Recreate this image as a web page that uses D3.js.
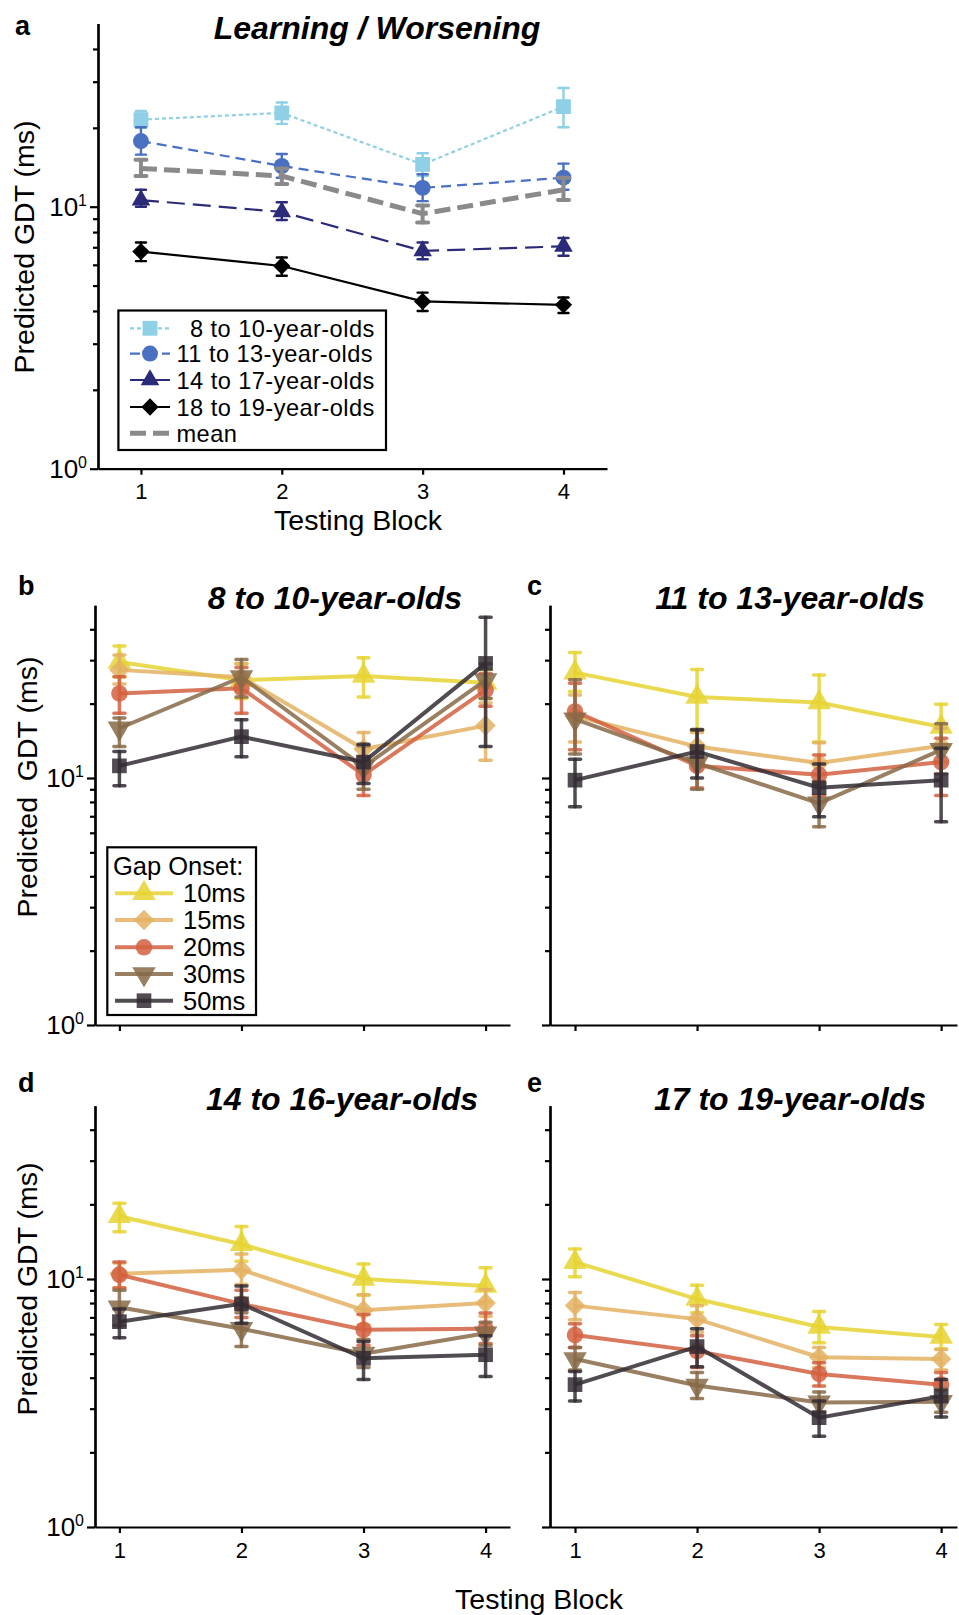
<!DOCTYPE html>
<html>
<head>
<meta charset="utf-8">
<script src="https://cdn.jsdelivr.net/npm/d3@7"></script>
<style>
  body { margin: 0; background: #fff; }
  text { font-family: "Liberation Sans", Arial, Helvetica, sans-serif; }
</style>
</head>
<body>
<svg id="chart" width="959" height="1615"></svg>
<script>
const blocks = [1, 2, 3, 4];
const minorTicks = [2, 3, 4, 5, 6, 7, 8, 9, 20, 30, 40];
const majorTicks = [1, 10];

// panel a: predicted GDT per age group (ms), error bars as [low, high]
const ageLabels = ['8 to 10-year-olds', '11 to 13-year-olds', '14 to 17-year-olds', '18 to 19-year-olds', 'mean'];
const age8to10 = [21.5, 22.8, 14.5, 24.1];
const age8to10Err = [[20.0, 23.2], [20.7, 25.0], [13.1, 16.0], [20.1, 28.4]];
const age11to13 = [17.8, 14.3, 11.8, 12.9];
const age11to13Err = [[15.8, 20.1], [12.9, 15.9], [10.5, 13.3], [11.6, 14.6]];
const age14to17 = [10.6, 9.55, 6.78, 7.06];
const age14to17Err = [[10.0, 11.6], [8.9, 10.4], [6.3, 7.3], [6.5, 7.6]];
const age18to19 = [6.74, 5.94, 4.35, 4.22];
const age18to19Err = [[6.2, 7.3], [5.45, 6.4], [4.0, 4.7], [3.93, 4.5]];
const ageMean = [14.0, 13.1, 9.4, 11.6];
const ageMeanErr = [[13.1, 15.1], [12.2, 14.0], [8.7, 10.1], [10.6, 12.9]];

// panels b-e: predicted GDT per gap onset (ms)
const onsetLabels = ['10ms', '15ms', '20ms', '30ms', '50ms'];

// b: 8 to 10-year-olds
const b10 = [29.5, 24.9, 25.9, 24.3];
const b10Err = [[25.7, 34.2], [21.0, 29.0], [21.3, 30.7], [21.0, 27.5]];
const b15 = [27.4, 25.6, 13.1, 16.3];
const b15Err = [[24.0, 31.5], [22.5, 29.0], [11.1, 15.3], [11.8, 20.1]];
const b20 = [22.0, 23.1, 10.3, 22.7];
const b20Err = [[18.3, 25.7], [18.3, 28.0], [8.5, 12.2], [19.5, 26.5]];
const b30 = [15.9, 25.6, 11.1, 24.9];
const b30Err = [[13.4, 17.5], [21.3, 30.2], [9.0, 13.5], [21.0, 29.0]];
const b50 = [11.2, 14.7, 11.6, 29.1];
const b50Err = [[9.3, 12.8], [12.2, 17.2], [9.5, 13.7], [13.4, 44.7]];

// c: 11 to 13-year-olds
const c10 = [26.7, 21.3, 20.2, 16.1];
const c10Err = [[22.4, 32.2], [15.6, 27.5], [14.0, 26.1], [13.4, 19.9]];
const c15 = [17.8, 13.4, 11.5, 13.5];
const c15Err = [[14.0, 21.7], [11.8, 15.3], [9.6, 13.9], [11.6, 15.9]];
const c20 = [18.6, 11.2, 10.3, 11.6];
const c20Err = [[13.0, 24.2], [9.1, 12.6], [8.5, 12.4], [8.5, 14.5]];
const c30 = [17.3, 11.5, 7.9, 13.0];
const c30Err = [[12.5, 25.0], [9.0, 15.6], [6.35, 9.5], [10.4, 16.6]];
const c50 = [9.8, 12.8, 9.14, 9.8];
const c50Err = [[7.65, 11.9], [10.0, 15.7], [6.97, 11.4], [6.65, 13.2]];

// d: 14 to 16-year-olds
const d10 = [17.9, 13.8, 10.0, 9.37];
const d10Err = [[15.5, 20.2], [11.8, 16.3], [8.6, 11.5], [8.1, 11.1]];
const d15 = [10.5, 10.9, 7.48, 8.0];
const d15Err = [[9.2, 11.6], [9.5, 12.6], [6.52, 8.63], [7.08, 9.07]];
const d20 = [10.4, 7.94, 6.24, 6.3];
const d20Err = [[9.2, 11.7], [7.0, 9.0], [5.4, 7.2], [5.5, 7.3]];
const d30 = [7.69, 6.3, 5.0, 6.04];
const d30Err = [[6.5, 9.0], [5.34, 7.31], [4.4, 5.7], [5.4, 6.7]];
const d50 = [6.73, 7.94, 4.79, 4.95];
const d50Err = [[5.8, 7.57], [6.63, 9.37], [3.93, 5.6], [4.04, 5.9]];

// e: 17 to 19-year-olds
const e10 = [11.7, 8.3, 6.41, 5.84];
const e10Err = [[10.2, 13.2], [7.31, 9.43], [5.53, 7.39], [5.22, 6.56]];
const e15 = [7.81, 6.89, 4.84, 4.76];
const e15Err = [[6.85, 8.83], [6.1, 7.8], [4.4, 5.3], [4.3, 5.2]];
const e20 = [5.94, 5.12, 4.14, 3.75];
const e20Err = [[5.3, 6.6], [4.4, 5.9], [3.7, 4.6], [3.35, 4.2]];
const e30 = [4.76, 3.72, 3.18, 3.2];
const e30Err = [[4.3, 5.3], [3.3, 4.2], [2.9, 3.5], [2.9, 3.6]];
const e50 = [3.75, 5.34, 2.76, 3.37];
const e50Err = [[3.22, 4.24], [4.43, 6.3], [2.32, 3.22], [2.78, 3.93]];

const svg = d3.select('#chart');

// filled diamond (square turned 45deg)
const symbolRhomb = {
  draw(ctx, size) {
    const r = Math.sqrt(size / 2);
    ctx.moveTo(0, -r);
    ctx.lineTo(r, 0);
    ctx.lineTo(0, r);
    ctx.lineTo(-r, 0);
    ctx.closePath();
  }
};

const ageStyles = [
  { color: '#8fd0e6', dash: '4,3', width: 2.2, sym: d3.symbolSquare, size: 220, rot: 0 },
  { color: '#4a70c2', dash: '10,6', width: 2.2, sym: d3.symbolCircle, size: 200, rot: 0 },
  { color: '#2b2b7a', dash: '18,8', width: 2.2, sym: d3.symbolTriangle, size: 150, rot: 0 },
  { color: '#000000', dash: null, width: 2.2, sym: symbolRhomb, size: 150, rot: 0 },
  { color: '#8a8a8a', dash: '16,7', width: 5, sym: null, size: 0, rot: 0 }
];

const onsetStyles = [
  { color: '#e6d433', sym: d3.symbolTriangle, size: 240, rot: 0 },
  { color: '#e3b162', sym: symbolRhomb, size: 210, rot: 0 },
  { color: '#d2603f', sym: d3.symbolCircle, size: 215, rot: 0 },
  { color: '#876a48', sym: d3.symbolTriangle, size: 240, rot: 180 },
  { color: '#332c34', sym: d3.symbolSquare, size: 215, rot: 0 }
];

function makeY(bottom, decade) {
  return d3.scaleLog().domain([1, 50]).range([bottom, bottom - decade * Math.log10(50)]);
}

function drawAxes(g, x, y, withXLabels, withYLabels) {
  const x0 = x.range()[0];
  const y0 = y.range()[0];

  g.append('g')
    .attr('transform', `translate(${x0},0)`)
    .call(d3.axisLeft(y).tickValues(minorTicks).tickSize(5).tickSizeOuter(0).tickFormat(''));
  g.append('g')
    .attr('transform', `translate(${x0},0)`)
    .call(d3.axisLeft(y).tickValues(majorTicks).tickSize(8).tickSizeOuter(0).tickFormat(''));
  const xa = g.append('g')
    .attr('transform', `translate(0,${y0})`)
    .call(d3.axisBottom(x).tickValues(blocks).tickSize(6).tickSizeOuter(0).tickPadding(9)
      .tickFormat(withXLabels ? d3.format('d') : ''));
  xa.selectAll('text').attr('font-size', 22).attr('fill', '#000');

  g.selectAll('.domain, .tick line')
    .attr('stroke', '#000')
    .attr('stroke-width', 2.2);

  if (withYLabels) {
    majorTicks.forEach((v, i) => {
      const t = g.append('text')
        .attr('x', x0 - 11)
        .attr('y', y(v) + 9)
        .attr('text-anchor', 'end')
        .attr('font-size', 26);
      t.append('tspan').text('10');
      t.append('tspan').attr('font-size', 16).attr('dy', -10).text(String(i));
    });
  }
}

function drawSeries(g, x, y, vals, errs, st, lineW, errW, capW, alpha) {
  const line = d3.line()
    .x((d, i) => x(blocks[i]))
    .y(d => y(d));

  g.append('path')
    .attr('d', line(vals))
    .attr('fill', 'none')
    .attr('stroke', st.color)
    .attr('stroke-width', lineW)
    .attr('stroke-opacity', alpha)
    .attr('stroke-dasharray', st.dash || null);

  const eb = g.append('g')
    .attr('stroke', st.color)
    .attr('stroke-opacity', alpha)
    .attr('stroke-width', errW)
    .attr('stroke-linecap', 'round');
  errs.forEach((e, i) => {
    const cx = x(blocks[i]);
    eb.append('line').attr('x1', cx).attr('x2', cx).attr('y1', y(e[0])).attr('y2', y(e[1]));
    eb.append('line').attr('x1', cx - capW / 2).attr('x2', cx + capW / 2).attr('y1', y(e[0])).attr('y2', y(e[0]));
    eb.append('line').attr('x1', cx - capW / 2).attr('x2', cx + capW / 2).attr('y1', y(e[1])).attr('y2', y(e[1]));
  });

  if (st.sym) {
    g.selectAll(null)
      .data(vals)
      .join('path')
      .attr('d', d3.symbol().type(st.sym).size(st.size))
      .attr('transform', (d, i) => `translate(${x(blocks[i])},${y(d)}) rotate(${st.rot})`)
      .attr('fill', st.color)
      .attr('fill-opacity', alpha);
  }
}

function drawTitle(cx, by, label) {
  svg.append('text')
    .attr('x', cx).attr('y', by)
    .attr('text-anchor', 'middle')
    .attr('font-size', 32)
    .attr('font-weight', 'bold')
    .attr('font-style', 'italic')
    .text(label);
}

function drawLetter(lx, by, letter) {
  svg.append('text')
    .attr('x', lx).attr('y', by)
    .attr('font-size', 27)
    .attr('font-weight', 'bold')
    .text(letter);
}

function drawYTitle(cx, cy, label) {
  svg.append('text')
    .attr('transform', `translate(${cx},${cy}) rotate(-90)`)
    .attr('text-anchor', 'middle')
    .attr('font-size', 28.5)
    .style('white-space', 'pre')
    .text(label);
}

// ---------- panel a ----------
{
  const g = svg.append('g');
  const x = d3.scaleLinear().domain([0.695, 4.309]).range([98, 607]);
  const y = makeY(468.7, 262);
  drawAxes(g, x, y, true, true);

  const ageVals = [age8to10, age11to13, age14to17, age18to19, ageMean];
  const ageErrs = [age8to10Err, age11to13Err, age14to17Err, age18to19Err, ageMeanErr];
  ageVals.forEach((v, k) => {
    const st = ageStyles[k];
    drawSeries(g, x, y, v, ageErrs[k], st, st.width, k === 4 ? 4 : 2.4, k === 4 ? 11 : 10, 1);
  });

  drawLetter(15, 35, 'a');
  drawTitle(377, 39, 'Learning / Worsening');
  drawYTitle(34, 247, 'Predicted GDT (ms)');
  svg.append('text')
    .attr('x', 358).attr('y', 530)
    .attr('text-anchor', 'middle')
    .attr('font-size', 28.5)
    .text('Testing Block');

  // legend
  const lg = svg.append('g');
  lg.append('rect')
    .attr('x', 118.4).attr('y', 310.5).attr('width', 267.6).attr('height', 139.5)
    .attr('fill', '#fff').attr('stroke', '#000').attr('stroke-width', 2.2);
  const rowY = [328.3, 353.6, 380, 407, 433.3];
  ageLabels.forEach((lab, k) => {
    const st = ageStyles[k];
    const ry = rowY[k];
    lg.append('line')
      .attr('x1', 130).attr('x2', 170).attr('y1', ry).attr('y2', ry)
      .attr('stroke', st.color).attr('stroke-width', st.width)
      .attr('stroke-dasharray', st.dash || null);
    if (st.sym) {
      lg.append('path')
        .attr('d', d3.symbol().type(st.sym).size(st.size))
        .attr('transform', `translate(150,${ry})`)
        .attr('fill', st.color);
    }
    lg.append('text')
      .attr('x', k === 0 ? 190 : 176.5).attr('y', ry + 8.5)
      .attr('font-size', 23.6)
      .attr('letter-spacing', 0.45)
      .text(lab);
  });
}

// ---------- panels b-e ----------
const onsetPanels = [
  { letter: 'b', title: '8 to 10-year-olds', vals: [b10, b15, b20, b30, b50], errs: [b10Err, b15Err, b20Err, b30Err, b50Err],
    xr: [95, 510], xd: [0.8, 4.2], yb: 1025, dec: 247, lx: 18, ly: 595, tx: 335, ty: 609, yLab: 787, xLab: false, legend: true },
  { letter: 'c', title: '11 to 13-year-olds', vals: [c10, c15, c20, c30, c50], errs: [c10Err, c15Err, c20Err, c30Err, c50Err],
    xr: [550, 957], xd: [0.795, 4.13], yb: 1025, dec: 247, lx: 527, ly: 595, tx: 790, ty: 609, yLab: 0, xLab: false, legend: false },
  { letter: 'd', title: '14 to 16-year-olds', vals: [d10, d15, d20, d30, d50], errs: [d10Err, d15Err, d20Err, d30Err, d50Err],
    xr: [95, 510], xd: [0.8, 4.2], yb: 1527, dec: 248, lx: 18, ly: 1092, tx: 342, ty: 1110, yLab: 1289, xLab: true, legend: false },
  { letter: 'e', title: '17 to 19-year-olds', vals: [e10, e15, e20, e30, e50], errs: [e10Err, e15Err, e20Err, e30Err, e50Err],
    xr: [550, 957], xd: [0.795, 4.13], yb: 1527, dec: 248, lx: 527, ly: 1092, tx: 790, ty: 1110, yLab: 0, xLab: true, legend: false }
];

onsetPanels.forEach(p => {
  const g = svg.append('g');
  const x = d3.scaleLinear().domain(p.xd).range(p.xr);
  const y = makeY(p.yb, p.dec);
  drawAxes(g, x, y, p.xLab, p.yLab > 0);

  p.vals.forEach((v, k) => {
    drawSeries(g, x, y, v, p.errs[k], onsetStyles[k], 4, 3.5, 11, 0.85);
  });

  drawLetter(p.lx, p.ly, p.letter);
  drawTitle(p.tx, p.ty, p.title);
  if (p.yLab) {
    drawYTitle(37, p.yLab, p.letter === 'b' ? 'Predicted  GDT (ms)' : 'Predicted GDT (ms)');
  }

  if (p.legend) {
    const lg = svg.append('g');
    lg.append('rect')
      .attr('x', 107.3).attr('y', 847.3).attr('width', 148.7).attr('height', 167.7)
      .attr('fill', '#fff').attr('stroke', '#000').attr('stroke-width', 2.2);
    lg.append('text')
      .attr('x', 113).attr('y', 874.5)
      .attr('font-size', 25.5)
      .text('Gap Onset:');
    const rowY = [893.3, 920, 947.3, 974, 1000.7];
    onsetLabels.forEach((lab, k) => {
      const st = onsetStyles[k];
      const ry = rowY[k];
      lg.append('line')
        .attr('x1', 115).attr('x2', 173).attr('y1', ry).attr('y2', ry)
        .attr('stroke', st.color).attr('stroke-opacity', 0.85).attr('stroke-width', 4);
      lg.append('path')
        .attr('d', d3.symbol().type(st.sym).size(st.size))
        .attr('transform', `translate(144,${ry}) rotate(${st.rot})`)
        .attr('fill', st.color).attr('fill-opacity', 0.85);
      lg.append('text')
        .attr('x', 183).attr('y', ry + 9)
        .attr('font-size', 25.5)
        .text(lab);
    });
  }
});

svg.append('text')
  .attr('x', 539).attr('y', 1609)
  .attr('text-anchor', 'middle')
  .attr('font-size', 28.5)
  .text('Testing Block');
</script>
</body>
</html>
